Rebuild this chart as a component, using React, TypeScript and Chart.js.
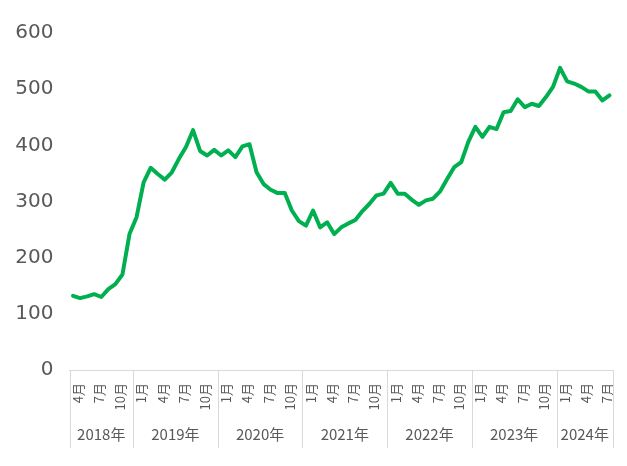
import { useEffect, useRef } from "react";
import Chart from "chart.js/auto";

// monthly series, Apr 2018 - Aug 2024
const years = ["2018", "2019", "2020", "2021", "2022", "2023", "2024"];
const firstMonth = 4;
const lastMonth = 8;

const values2018 = [132, 128, 131, 135, 130, 144, 153, 170, 242];
const values2019 = [272, 334, 360, 349, 339, 352, 376, 397, 427, 390, 382, 392];
const values2020 = [382, 391, 379, 398, 402, 352, 331, 321, 315, 315, 284, 265];
const values2021 = [257, 284, 254, 263, 242, 254, 261, 267, 283, 296, 311, 314];
const values2022 = [333, 314, 314, 303, 294, 302, 305, 318, 340, 361, 370, 406];
const values2023 = [433, 415, 433, 429, 459, 461, 482, 468, 474, 470, 486, 504];
const values2024 = [538, 514, 510, 504, 496, 496, 480, 489];

const labeledMonths = [1, 4, 7, 10];
const yTicks = [0, 100, 200, 300, 400, 500, 600];

const series = [
    ...values2018,
    ...values2019,
    ...values2020,
    ...values2021,
    ...values2022,
    ...values2023,
    ...values2024,
];

const categories: { year: string; month: number }[] = [];
years.forEach((year, yi) => {
    const from = yi === 0 ? firstMonth : 1;
    const to = yi === years.length - 1 ? lastMonth : 12;
    for (let m = from; m <= to; m++) categories.push({ year, month: m });
});

const textColor = "#595959";
const lineColor = "#d9d9d9";

const yearAxisPlugin = {
    id: "yearAxis",
    afterDraw(chart: any) {
        const { ctx, chartArea, scales } = chart;
        const x = scales.x;
        const half = (x.getPixelForValue(1) - x.getPixelForValue(0)) / 2;
        const bottom = 448;

        // boundaries between years
        const edges: number[] = [chartArea.left];
        categories.forEach((c, i) => {
            if (i > 0 && c.month === 1) edges.push(x.getPixelForValue(i) - half);
        });
        edges.push(chartArea.right);

        ctx.save();
        ctx.strokeStyle = lineColor;
        ctx.lineWidth = 1;
        edges.forEach((ex) => {
            const px = Math.round(ex) + 0.5;
            ctx.beginPath();
            ctx.moveTo(px, chartArea.bottom);
            ctx.lineTo(px, bottom);
            ctx.stroke();
        });

        ctx.fillStyle = textColor;
        ctx.font = '15px "Noto Sans CJK JP"';
        ctx.textAlign = "center";
        ctx.textBaseline = "middle";
        years.forEach((year, i) => {
            ctx.fillText(year + "年", (edges[i] + edges[i + 1]) / 2, 434);
        });
        ctx.restore();
    },
};

export default function App() {
    const canvasRef = useRef<HTMLCanvasElement | null>(null);

    useEffect(() => {
        if (!canvasRef.current) {
            return;
        }

        const chart = new Chart(canvasRef.current, {
            type: "line",
            data: {
                labels: categories.map((c) => `${c.year}/${c.month}`),
                datasets: [
                    {
                        data: series,
                        borderColor: "#00B050",
                        borderWidth: 4,
                        pointRadius: 0,
                        tension: 0,
                        borderJoinStyle: "round",
                        borderCapStyle: "round",
                    },
                ],
            },
            options: {
                animation: false,
                responsive: true,
                maintainAspectRatio: false,
                layout: { padding: { top: 33, right: 14, left: 0, bottom: 0 } },
                plugins: {
                    legend: { display: false },
                    tooltip: { enabled: false },
                },
                scales: {
                    x: {
                        type: "category",
                        offset: true,
                        grid: { display: false },
                        border: { display: true, color: lineColor, width: 1 },
                        afterFit: (scale: any) => {
                            scale.height = 96;
                            scale.paddingLeft = 0;
                            scale.paddingRight = 0;
                        },
                        ticks: {
                            autoSkip: false,
                            minRotation: 90,
                            maxRotation: 90,
                            padding: 5,
                            labelOffset: 5,
                            color: textColor,
                            font: { family: '"Noto Sans CJK JP"', size: 13 },
                            callback: (_v: any, i: number) => {
                                const m = categories[i].month;
                                return labeledMonths.includes(m) ? `${m}月` : "";
                            },
                        },
                    },
                    y: {
                        min: yTicks[0],
                        max: yTicks[yTicks.length - 1],
                        grid: { display: false },
                        border: { display: false },
                        afterFit: (scale: any) => {
                            scale.width = 69.5;
                        },
                        ticks: {
                            stepSize: 100,
                            padding: 8,
                            color: textColor,
                            font: { family: '"DejaVu Sans"', size: 20 },
                        },
                    },
                },
            },
            plugins: [yearAxisPlugin],
        });

        return () => chart.destroy();
    }, []);

    return (
        <div style={{ position: "absolute", left: 0, top: 0, width: 627, height: 466, background: "#fff" }}>
            <canvas ref={canvasRef} />
        </div>
    );
}
